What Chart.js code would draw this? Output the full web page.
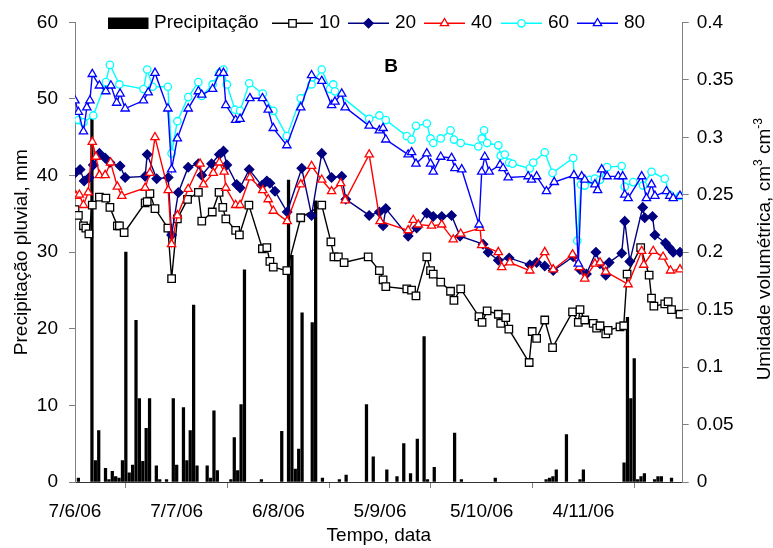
<!DOCTYPE html>
<html>
<head>
<meta charset="utf-8">
<script src="https://cdn.jsdelivr.net/npm/chart.js@4.4.0/dist/chart.umd.min.js"></script>
<style>
  html, body { margin: 0; padding: 0; background: #fff; }
  canvas { display: block; }
</style>
</head>
<body>
<canvas id="chart" width="773" height="548"></canvas>
<script>
// x values are days counted from 7/6/06
const tickDays = [0, 30, 60, 90, 120, 150];
const tickLabels = ['7/6/06', '7/7/06', '6/8/06', '5/9/06', '5/10/06', '4/11/06'];

// daily rainfall, mm
const rainDays = [1, 5, 6, 7, 9, 10, 11, 12, 13, 14, 15, 16, 17, 18, 19, 20, 21, 22, 24, 25, 27, 29, 30, 32, 33, 34, 35, 36, 39, 40, 41, 42, 46, 47, 48, 49, 50, 55, 61, 63, 64, 65, 66, 67, 70, 71, 73, 78, 80, 86, 88, 92, 95, 97, 99, 101, 103, 104, 106, 112, 114, 124, 139, 140, 141, 142, 145, 149, 150, 162, 163, 164, 165, 166, 167, 168, 171, 172, 173, 176];
const rainMm = [0.5, 47.5, 2.8, 6.7, 1.8, 0.3, 1.4, 0.7, 0.5, 2.8, 30, 1.2, 2.2, 21.1, 10.9, 2.7, 7.0, 10.9, 2.1, 0.3, 0.3, 10.9, 2.2, 9.7, 2.8, 6.7, 23.1, 2.1, 2.1, 0.5, 9.3, 1.5, 0.3, 5.8, 1.5, 10.1, 27.7, 0.3, 6.6, 39.4, 29.6, 1.7, 4.3, 22.1, 20.8, 36.7, 0.5, 0.3, 0.9, 10.1, 3.3, 1.6, 0.7, 5.0, 1.1, 5.6, 19.0, 0.3, 1.9, 6.4, 0.3, 0.5, 0.3, 0.5, 0.7, 1.6, 6.2, 0.3, 1.6, 2.5, 21.5, 10.9, 16.1, 0.3, 0.7, 1.1, 0.3, 0.7, 0.7, 0.5];

// soil moisture by depth (cm), cm3 cm-3
const days10 = [0, 1.0, 2.5, 3.2, 4.1, 5.1, 7.2, 9.1, 10.3, 12.5, 13.1, 14.5, 20.7, 21.3, 22.1, 23.6, 27.4, 28.5, 30.2, 33.2, 36.4, 37.4, 40.5, 42.5, 43.6, 44.5, 47.4, 48.5, 51.3, 55.3, 56.6, 57.5, 58.5, 62.5, 66.6, 72.8, 75.5, 76.4, 77.7, 79.4, 86.5, 89.8, 90.9, 91.7, 97.9, 99.3, 100.6, 103.8, 104.9, 105.7, 107.9, 110.8, 111.8, 113.8, 119.2, 120.1, 121.6, 124.9, 125.6, 127.1, 128.0, 134.0, 134.9, 136.2, 138.6, 140.9, 146.8, 148.5, 149.0, 150.4, 152.9, 153.9, 154.9, 156.6, 157.3, 160.8, 161.9, 162.9, 166.9, 169.4, 170.1, 170.8, 174.0, 175.0, 176.0, 178.5];
const moist10 = [0.237, 0.232, 0.223, 0.221, 0.216, 0.241, 0.248, 0.247, 0.239, 0.223, 0.223, 0.217, 0.243, 0.244, 0.251, 0.238, 0.221, 0.177, 0.229, 0.246, 0.252, 0.227, 0.235, 0.252, 0.239, 0.229, 0.219, 0.215, 0.241, 0.203, 0.204, 0.192, 0.187, 0.184, 0.230, 0.241, 0.209, 0.196, 0.196, 0.191, 0.196, 0.184, 0.176, 0.170, 0.168, 0.167, 0.162, 0.196, 0.184, 0.181, 0.174, 0.166, 0.158, 0.168, 0.144, 0.139, 0.149, 0.146, 0.138, 0.143, 0.133, 0.104, 0.131, 0.125, 0.141, 0.117, 0.148, 0.139, 0.150, 0.141, 0.138, 0.134, 0.136, 0.129, 0.132, 0.135, 0.136, 0.181, 0.204, 0.180, 0.160, 0.153, 0.155, 0.157, 0.150, 0.146];

const days20 = [0, 1.5, 2.7, 4.2, 5.4, 7.2, 8.9, 10.3, 13.3, 14.8, 20.7, 21.3, 24.1, 27.5, 28.5, 30.5, 33.4, 36.4, 37.4, 40.3, 42.6, 43.8, 44.8, 47.7, 48.7, 51.4, 55.1, 56.6, 57.5, 59.0, 62.6, 66.9, 69.8, 72.8, 75.7, 78.7, 79.9, 86.8, 89.8, 90.9, 91.7, 98.3, 100.8, 103.8, 105.7, 108.2, 111.1, 113.6, 120.4, 121.9, 124.9, 128.1, 134.2, 136.2, 138.6, 141.1, 147.0, 149.0, 150.9, 153.7, 154.9, 156.6, 157.6, 161.3, 162.2, 163.7, 167.5, 168.1, 170.4, 171.1, 174.2, 175.3, 176.5, 178.5];
const moist20 = [0.269, 0.272, 0.262, 0.265, 0.276, 0.286, 0.282, 0.278, 0.275, 0.265, 0.266, 0.285, 0.264, 0.265, 0.215, 0.252, 0.274, 0.277, 0.267, 0.277, 0.285, 0.288, 0.276, 0.259, 0.256, 0.272, 0.258, 0.262, 0.260, 0.253, 0.235, 0.273, 0.232, 0.286, 0.265, 0.266, 0.246, 0.232, 0.235, 0.223, 0.238, 0.214, 0.221, 0.234, 0.231, 0.231, 0.232, 0.214, 0.207, 0.200, 0.193, 0.195, 0.189, 0.191, 0.188, 0.184, 0.196, 0.185, 0.181, 0.200, 0.190, 0.180, 0.191, 0.199, 0.227, 0.192, 0.239, 0.230, 0.231, 0.215, 0.208, 0.204, 0.200, 0.200];

const days40 = [0.3, 1.3, 2.5, 3.9, 5.1, 6.2, 7.2, 8.9, 10.5, 12.5, 13.8, 20.7, 22.1, 23.6, 27.5, 28.5, 30.2, 33.4, 36.9, 37.9, 40.8, 42.6, 44.0, 44.5, 47.4, 48.7, 51.6, 55.4, 57.0, 58.5, 62.6, 66.6, 69.8, 72.8, 75.7, 78.4, 79.7, 86.8, 90.0, 98.3, 99.8, 101.3, 105.2, 108.2, 111.6, 113.8, 119.5, 120.0, 124.9, 125.9, 128.3, 134.2, 138.6, 141.1, 146.8, 148.8, 150.4, 153.4, 154.9, 156.6, 163.2, 167.2, 167.8, 170.6, 173.5, 175.7, 178.5];
const moist40 = [0.249, 0.250, 0.241, 0.252, 0.296, 0.283, 0.267, 0.267, 0.278, 0.257, 0.249, 0.256, 0.269, 0.300, 0.254, 0.207, 0.232, 0.255, 0.277, 0.259, 0.269, 0.278, 0.270, 0.256, 0.241, 0.241, 0.265, 0.254, 0.246, 0.236, 0.227, 0.259, 0.275, 0.263, 0.253, 0.260, 0.245, 0.285, 0.227, 0.219, 0.228, 0.224, 0.223, 0.224, 0.211, 0.216, 0.221, 0.206, 0.200, 0.187, 0.191, 0.184, 0.200, 0.185, 0.198, 0.187, 0.177, 0.190, 0.191, 0.183, 0.172, 0.201, 0.189, 0.201, 0.196, 0.184, 0.185];

const days60 = [0, 1.0, 2.5, 5.4, 9.1, 10.3, 13.1, 20.2, 21.3, 22.9, 27.4, 28.5, 30.2, 33.4, 36.4, 37.4, 40.6, 42.6, 43.8, 44.8, 47.2, 48.7, 51.4, 55.4, 58.5, 62.5, 66.6, 69.8, 72.8, 75.2, 76.2, 76.7, 86.8, 89.8, 91.7, 97.9, 99.3, 100.6, 103.8, 104.9, 105.7, 107.9, 110.8, 111.8, 113.8, 119.0, 120.0, 120.7, 121.6, 124.9, 125.6, 126.8, 128.1, 129.1, 134.2, 135.2, 138.6, 140.9, 147.0, 148.2, 149.3, 150.4, 151.9, 153.4, 154.9, 157.0, 161.3, 162.2, 164.7, 167.6, 170.1, 174.0, 175.5, 178.5];
const moist60 = [0.319, 0.315, 0.313, 0.319, 0.348, 0.363, 0.346, 0.342, 0.359, 0.344, 0.344, 0.286, 0.314, 0.335, 0.348, 0.336, 0.346, 0.356, 0.359, 0.346, 0.324, 0.323, 0.347, 0.338, 0.323, 0.301, 0.334, 0.346, 0.359, 0.342, 0.346, 0.340, 0.316, 0.319, 0.315, 0.301, 0.298, 0.310, 0.312, 0.299, 0.295, 0.299, 0.306, 0.298, 0.295, 0.292, 0.299, 0.306, 0.295, 0.293, 0.284, 0.285, 0.278, 0.277, 0.273, 0.278, 0.287, 0.269, 0.282, 0.210, 0.259, 0.258, 0.263, 0.264, 0.263, 0.274, 0.275, 0.257, 0.261, 0.258, 0.270, 0.264, 0.250, 0.249];

const days80 = [0, 1.0, 2.5, 3.5, 4.4, 5.1, 7.2, 9.1, 10.6, 12.3, 13.3, 14.8, 20.2, 21.6, 23.6, 27.4, 28.5, 30.2, 33.4, 36.4, 37.4, 40.6, 42.6, 43.8, 44.5, 47.4, 48.7, 51.6, 55.3, 57.0, 58.5, 62.5, 66.6, 69.8, 72.8, 75.7, 76.7, 78.7, 79.7, 86.8, 89.8, 90.9, 91.7, 98.3, 99.3, 100.6, 103.8, 104.9, 105.7, 107.9, 111.1, 112.1, 114.1, 119.2, 120.0, 120.9, 122.2, 125.4, 126.3, 127.8, 133.7, 134.7, 136.2, 139.1, 141.4, 147.2, 148.5, 149.5, 150.4, 153.4, 154.2, 155.4, 157.0, 160.3, 161.6, 162.2, 163.2, 167.2, 168.6, 170.1, 171.1, 174.5, 175.5, 176.5, 178.5];
const moist80 = [0.332, 0.322, 0.305, 0.326, 0.332, 0.355, 0.345, 0.340, 0.345, 0.330, 0.338, 0.325, 0.332, 0.339, 0.356, 0.325, 0.272, 0.299, 0.325, 0.340, 0.337, 0.342, 0.356, 0.356, 0.328, 0.315, 0.316, 0.334, 0.334, 0.324, 0.308, 0.293, 0.326, 0.354, 0.349, 0.328, 0.331, 0.338, 0.326, 0.310, 0.306, 0.308, 0.298, 0.285, 0.287, 0.277, 0.286, 0.277, 0.270, 0.283, 0.282, 0.273, 0.272, 0.224, 0.270, 0.283, 0.270, 0.276, 0.273, 0.265, 0.266, 0.263, 0.266, 0.253, 0.261, 0.267, 0.190, 0.266, 0.263, 0.259, 0.254, 0.272, 0.266, 0.266, 0.266, 0.250, 0.247, 0.266, 0.247, 0.259, 0.249, 0.253, 0.249, 0.247, 0.249];

const FONT = '"Liberation Sans", Arial, sans-serif';
Chart.defaults.font.family = FONT;
Chart.defaults.font.size = 19;
Chart.defaults.color = '#000';

const zip = (xs, ys) => xs.map((x, i) => ({ x: x, y: ys[i] }));

// one helper per depth series so the styles stay together
function depthSeries(label, days, values, color, style, radius, order) {
  return {
    type: 'line',
    label: label,
    data: zip(days, values),
    yAxisID: 'y2',
    borderColor: color,
    borderWidth: 1.4,
    pointStyle: style,
    pointRadius: radius,
    pointBorderColor: color,
    pointBackgroundColor: style === 'rectRot' ? color : '#fff',
    pointBorderWidth: 1.3,
    tension: 0,
    order: order
  };
}

const series = [
  depthSeries('10', days10, moist10, '#000000', 'rect', 5.3, 5),
  depthSeries('20', days20, moist20, '#000080', 'rectRot', 4.6, 4),
  depthSeries('40', days40, moist40, '#ff0000', 'triangle', 4.8, 3),
  depthSeries('60', days60, moist60, '#00ffff', 'circle', 3.7, 2),
  depthSeries('80', days80, moist80, '#0000ff', 'triangle', 4.8, 1)
];

// legend, panel letter and axis titles
const decorations = {
  id: 'decorations',
  afterDraw(chart) {
    const ctx = chart.ctx;
    const area = chart.chartArea;
    ctx.save();
    ctx.fillStyle = '#000';
    ctx.font = '19px ' + FONT;
    ctx.textBaseline = 'alphabetic';
    ctx.textAlign = 'left';

    // legend
    ctx.fillRect(108, 17.5, 40.5, 11.5);
    ctx.fillText('Precipitação', 154, 28);
    const legendX = [272, 348, 424, 501, 577];
    series.forEach((ds, i) => {
      const x0 = legendX[i];
      ctx.strokeStyle = ds.borderColor;
      ctx.lineWidth = ds.borderWidth;
      ctx.beginPath();
      ctx.moveTo(x0, 23.3);
      ctx.lineTo(x0 + 41, 23.3);
      ctx.stroke();
      ctx.fillStyle = ds.pointBackgroundColor;
      ctx.lineWidth = ds.pointBorderWidth;
      Chart.helpers.drawPoint(ctx, {
        pointStyle: ds.pointStyle, radius: ds.pointRadius, rotation: 0, borderWidth: ds.pointBorderWidth
      }, x0 + 20.5, 23.3);
      ctx.fillStyle = '#000';
      ctx.fillText(ds.label, x0 + 47, 28);
    });

    // panel letter
    ctx.font = 'bold 19px ' + FONT;
    ctx.textAlign = 'center';
    ctx.fillText('B', 391, 71.5);

    // x title
    ctx.font = '19px ' + FONT;
    ctx.fillText('Tempo, data', (area.left + area.right) / 2, 541);

    const midY = (area.top + area.bottom) / 2;

    // left title
    ctx.save();
    ctx.translate(27, midY);
    ctx.rotate(-Math.PI / 2);
    ctx.fillText('Precipitação pluvial, mm', 0, 0);
    ctx.restore();

    // right title with superscripts
    const parts = [
      { text: 'Umidade volumétrica, cm', sup: false },
      { text: '3', sup: true },
      { text: ' cm', sup: false },
      { text: '-3', sup: true }
    ];
    let total = 0;
    parts.forEach(p => {
      ctx.font = (p.sup ? '12px ' : '19px ') + FONT;
      p.w = ctx.measureText(p.text).width;
      total += p.w;
    });
    ctx.save();
    ctx.translate(770, midY - 3);
    ctx.rotate(-Math.PI / 2);
    ctx.textAlign = 'left';
    let cx = -total / 2;
    parts.forEach(p => {
      ctx.font = (p.sup ? '12px ' : '19px ') + FONT;
      ctx.fillText(p.text, cx, p.sup ? -8 : 0);
      cx += p.w;
    });
    ctx.restore();

    ctx.restore();
  }
};

new Chart(document.getElementById('chart'), {
  type: 'line',
  data: {
    datasets: [
      {
        type: 'bar',
        label: 'Precipitação',
        data: zip(rainDays, rainMm),
        yAxisID: 'y',
        backgroundColor: '#000',
        borderWidth: 0,
        barThickness: 2.6,
        order: 10
      }
    ].concat(series)
  },
  options: {
    responsive: false,
    animation: false,
    layout: { padding: { top: 17.7, left: 0, right: 0, bottom: 0 } },
    plugins: { legend: { display: false }, tooltip: { enabled: false } },
    scales: {
      x: {
        type: 'linear',
        offset: false,
        min: 0,
        max: 179.3,
        afterBuildTicks: s => { s.ticks = tickDays.map(v => ({ value: v })); },
        afterFit: s => { s.height = 66; },
        ticks: {
          autoSkip: false,
          maxRotation: 0,
          padding: 12,
          callback: v => tickLabels[tickDays.indexOf(v)]
        },
        grid: { drawOnChartArea: false, tickLength: 6, color: '#808080' },
        border: { display: true, color: '#333' }
      },
      y: {
        position: 'left',
        min: 0,
        max: 60,
        afterFit: s => { s.width = 75; },
        ticks: { stepSize: 10, padding: 11 },
        grid: { drawOnChartArea: false, tickLength: 6, color: '#808080' },
        border: { display: true, color: '#808080' }
      },
      y2: {
        position: 'right',
        min: 0,
        max: 0.4,
        afterFit: s => { s.width = 90.3; },
        ticks: { stepSize: 0.05, padding: 8, callback: v => String(+v.toFixed(2)) },
        grid: { drawOnChartArea: false, tickLength: 6, color: '#808080' },
        border: { display: true, color: '#808080' }
      }
    }
  },
  plugins: [decorations]
});
</script>
</body>
</html>
